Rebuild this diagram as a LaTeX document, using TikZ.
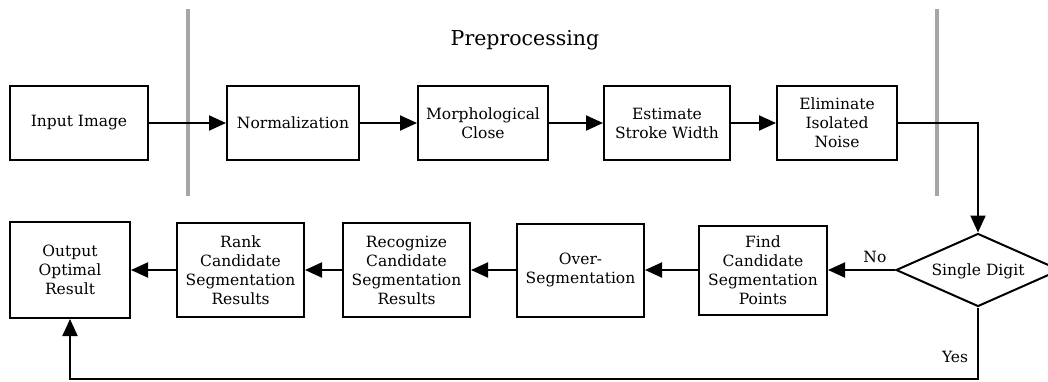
\documentclass[tikz,border=0pt]{standalone}
\usepackage{fontspec}
\setmainfont{DejaVu Serif}
\usetikzlibrary{arrows.meta,shapes.geometric}
\begin{document}
\begin{tikzpicture}[x=1pt,y=-1pt,
  every node/.style={font=\fontsize{15.5}{19}\selectfont},
  stage/.style={draw, line width=2pt, align=center, inner sep=0pt},
  decision/.style={draw, diamond, line width=2pt, inner sep=0pt,
    minimum width=164pt, minimum height=73pt},
  flow/.style={line width=2pt, -{Triangle[length=17pt,width=15pt]}},
  divider/.style={line width=4pt, draw=black!35},
  tag/.style={font=\fontsize{15.5}{18}\selectfont}]
\useasboundingbox (0,0) rectangle (1048,381);

% preprocessing section dividers and title
\coordinate (d1a) at (188,9);  \coordinate (d1b) at (188,196);
\coordinate (d2a) at (937,9);  \coordinate (d2b) at (937,196);
\draw[divider] (d1a) -- (d1b);
\draw[divider] (d2a) -- (d2b);
\node[font=\fontsize{20.5}{24}\selectfont] (title) at (525,40) {Preprocessing};

% top row
\node[stage, minimum width=138pt, minimum height=74pt] (in)    at (79,123)  {Input Image};
\node[stage, minimum width=132pt, minimum height=74pt] (norm)  at (293,123) {Normalization};
\node[stage, minimum width=130pt, minimum height=74pt] (morph) at (483,123) {Morphological\\Close};
\node[stage, minimum width=126pt, minimum height=74pt] (est)   at (667,123) {Estimate\\Stroke Width};
\node[stage, minimum width=120pt, minimum height=74pt] (elim)  at (837,123) {Eliminate\\Isolated\\Noise};

% decision (label kept out of the size computation so the outline stays fixed)
\node[decision] (dec) at (978,270) {\smash{\raisebox{-5.5pt}{\makebox[0pt]{Single Digit}}}};

% bottom row
\node[stage, minimum width=128pt, minimum height=89pt] (find)  at (763,270) {Find\\Candidate\\Segmentation\\Points};
\node[stage, minimum width=127pt, minimum height=93pt] (over)  at (580.5,270) {Over-\\Segmentation};
\node[stage, minimum width=127pt, minimum height=94pt] (recog) at (406.5,270) {Recognize\\Candidate\\Segmentation\\Results};
\node[stage, minimum width=127pt, minimum height=94pt] (rank)  at (240.5,270) {Rank\\Candidate\\Segmentation\\Results};
\node[stage, minimum width=120pt, minimum height=96pt] (out)   at (70,270)   {Output\\Optimal\\Result};

% connectors
\draw[flow] (in) -- (norm);
\draw[flow] (norm) -- (morph);
\draw[flow] (morph) -- (est);
\draw[flow] (est) -- (elim);
\draw[flow] (elim.east) -| (dec.north);
\draw[flow] (dec.west) -- node[tag, above=3pt, pos=0.3] (no) {No} (find.east);
\draw[flow] (find) -- (over);
\draw[flow] (over) -- (recog);
\draw[flow] (recog) -- (rank);
\draw[flow] (rank) -- (out);
\coordinate (loopR) at (978,379);
\draw[flow] (dec.south) -- (loopR) -| (out.south);
\node[tag] (yes) at (955,357) {Yes};
\end{tikzpicture}
\end{document}
